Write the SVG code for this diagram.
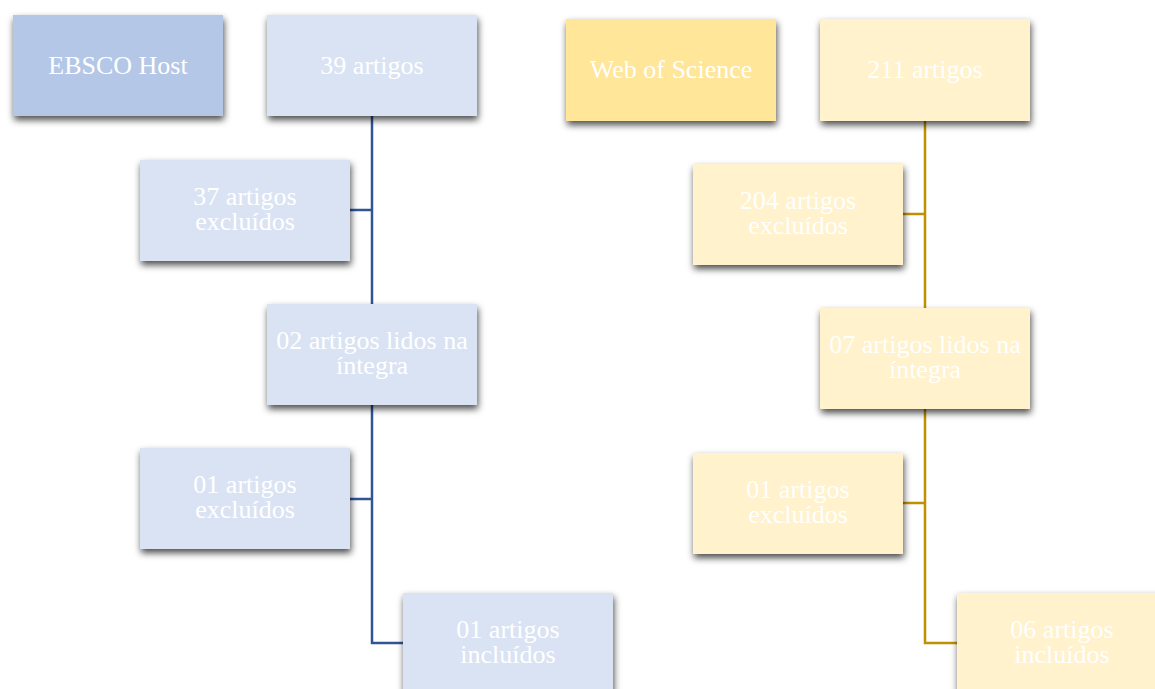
<svg xmlns="http://www.w3.org/2000/svg" width="1155" height="689" viewBox="0 0 1155 689">
<defs>
<filter id="sh" x="-20%" y="-20%" width="140%" height="150%">
<feDropShadow dx="1" dy="4" stdDeviation="3.5" flood-color="#000" flood-opacity="0.7"/>
</filter>
<style>
.b1{fill:#B4C7E7;filter:url(#sh)}
.b2{fill:#DAE3F3;filter:url(#sh)}
.y1{fill:#FFE699;filter:url(#sh)}
.y2{fill:#FFF2CC;filter:url(#sh)}
text{font-family:"Liberation Serif","Times New Roman",serif;font-size:26px;fill:#fff;text-anchor:middle}
.cb{fill:none;stroke:#2F5597;stroke-width:2.5}
.cy{fill:none;stroke:#BF9000;stroke-width:2.5}
</style>
</defs>
<rect width="1155" height="689" fill="#fff"/>
<g id="connectors">
<path class="cb" d="M372 116V643H403M350 210H372M350 499H372"/>
<path class="cy" d="M925 121V643H957M903 214H925M903 503H925"/>
</g>
<g id="ebsco"><rect class="b1" x="13" y="15" width="210" height="101"/><text x="118" y="74">EBSCO Host</text></g>
<g id="e39"><rect class="b2" x="267" y="15" width="210" height="101"/><text x="372" y="74">39 artigos</text></g>
<g id="e37"><rect class="b2" x="140" y="160" width="210" height="101"/><text x="245" y="205">37 artigos</text><text x="245" y="230">excluídos</text></g>
<g id="e02"><rect class="b2" x="267" y="304" width="210" height="101"/><text x="372" y="349">02 artigos lidos na</text><text x="372" y="374">íntegra</text></g>
<g id="e01x"><rect class="b2" x="140" y="448" width="210" height="101"/><text x="245" y="493">01 artigos</text><text x="245" y="518">excluídos</text></g>
<g id="e01i"><rect class="b2" x="403" y="593" width="210" height="101"/><text x="508" y="638">01 artigos</text><text x="508" y="663">incluídos</text></g>
<g id="wos"><rect class="y1" x="566" y="19" width="210" height="102"/><text x="671" y="78">Web of Science</text></g>
<g id="w211"><rect class="y2" x="820" y="19" width="210" height="102"/><text x="925" y="78">211 artigos</text></g>
<g id="w204"><rect class="y2" x="693" y="164" width="210" height="101"/><text x="798" y="209">204 artigos</text><text x="798" y="234">excluídos</text></g>
<g id="w07"><rect class="y2" x="820" y="308" width="210" height="101"/><text x="925" y="353">07 artigos lidos na</text><text x="925" y="378">íntegra</text></g>
<g id="w01x"><rect class="y2" x="693" y="453" width="210" height="101"/><text x="798" y="498">01 artigos</text><text x="798" y="523">excluídos</text></g>
<g id="w06i"><rect class="y2" x="957" y="593" width="210" height="101"/><text x="1062" y="638">06 artigos</text><text x="1062" y="663">incluídos</text></g>
</svg>
